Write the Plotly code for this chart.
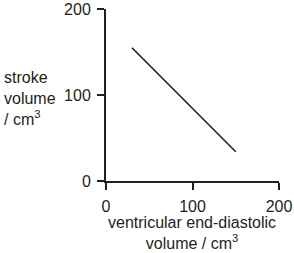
import plotly.graph_objects as go

x_vals = [30, 150]
y_vals = [155, 34]
tick_vals = [0, 100, 200]
tick_text = ["0", "100", "200"]

ink = "#231f20"
fnt = dict(family="Liberation Sans, Arial, sans-serif", size=16, color=ink)

fig = go.Figure()
fig.add_trace(go.Scatter(x=x_vals, y=y_vals, mode="lines",
                         line=dict(color=ink, width=1.6), showlegend=False,
                         hoverinfo="skip", cliponaxis=False))

axis_common = dict(range=[0, 200], tickvals=tick_vals, ticktext=tick_text,
                   showline=True, linecolor=ink, linewidth=2, mirror=False,
                   ticks="outside", ticklen=7, tickwidth=2, tickcolor=ink,
                   showgrid=False, zeroline=False, tickfont=fnt, fixedrange=True,
                   automargin=False, ticklabelstandoff=3)

fig.update_layout(
    width=294, height=253,
    margin=dict(l=106, r=15, t=9, b=72, autoexpand=False),
    paper_bgcolor="white", plot_bgcolor="white",
    xaxis=dict(**axis_common),
    yaxis=dict(**axis_common),
    font=fnt,
    annotations=[
        dict(text="stroke<br>volume<br>/ cm<sup>3</sup>", xref="paper", yref="paper",
             x=-0.6, y=0.477, xanchor="left", yanchor="middle", align="left",
             showarrow=False, font=fnt),
        dict(text="ventricular end-diastolic<br>volume / cm<sup>3</sup>", xref="paper", yref="paper",
             x=0.497, y=-0.303, xanchor="center", yanchor="middle", align="center",
             showarrow=False, font=fnt),
    ],
)

fig.write_html("out.html")
